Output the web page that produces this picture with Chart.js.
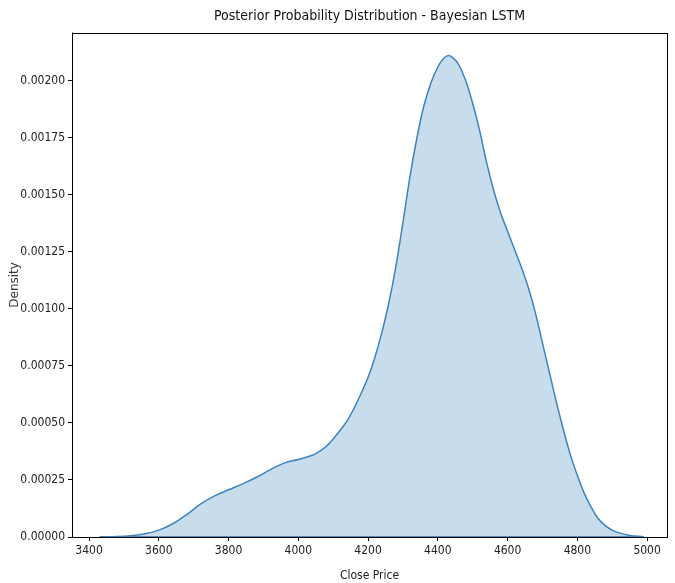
<!DOCTYPE html>
<html>
<head>
<meta charset="utf-8">
<script src="https://cdn.jsdelivr.net/npm/chart.js@4"></script>
<style>
html,body{margin:0;padding:0;background:#fff;}
#wrap{width:675px;height:583px;}
</style>
</head>
<body>
<div id="wrap"><canvas id="c" width="675" height="583"></canvas></div>
<script>
const closePrice = [3430,3480,3520,3560,3600,3640,3680,3720,3760,3800,3840,3880,3920,3960,4000,4040,4060,4080,4100,4120,4140,4160,4180,4200,4220,4240,4260,4280,4300,4320,4340,4360,4380,4400,4415,4430,4445,4460,4480,4500,4520,4540,4560,4580,4600,4620,4640,4660,4680,4700,4720,4740,4760,4780,4800,4820,4840,4860,4880,4900,4920,4950,4990];
const density = [0,0.000002,0.000006,0.000014,0.00003,0.000058,0.000098,0.000145,0.00018,0.000207,0.000233,0.000262,0.000295,0.000325,0.00034,0.000358,0.000375,0.000397,0.00043,0.000468,0.00051,0.000565,0.00063,0.0007,0.00079,0.0009,0.00103,0.00119,0.00138,0.00158,0.00175,0.00189,0.00199,0.00206,0.002095,0.00211,0.002098,0.00207,0.002,0.0019,0.00178,0.00164,0.00152,0.00142,0.00134,0.00126,0.00118,0.00109,0.00098,0.00085,0.00072,0.00059,0.00047,0.00036,0.00027,0.00019,0.00013,0.00008,0.00005,0.00003,0.000018,0.000007,0.000001];
const xTicks = [3400,3600,3800,4000,4200,4400,4600,4800,5000];
const yTicks = [0,0.00025,0.0005,0.00075,0.001,0.00125,0.0015,0.00175,0.002];

const narrow = "'Liberation Sans Narrow','DejaVu Sans Condensed','Arial Narrow',sans-serif";
const pts = closePrice.map((x,i)=>({x:x,y:density[i]}));

const frame = {
  id:'frame',
  afterDraw(chart){
    const a = chart.chartArea, ctx = chart.ctx;
    ctx.save();
    ctx.strokeStyle = '#000';
    ctx.lineWidth = 1;
    ctx.strokeRect(Math.round(a.left)+0.5, Math.round(a.top)+0.5, Math.round(a.right-a.left), Math.round(a.bottom-a.top));
    ctx.restore();
  }
};

new Chart(document.getElementById('c'), {
  type:'line',
  data:{datasets:[
    {data:pts, borderColor:'#3b84c0', backgroundColor:'rgba(31,119,180,0.25)', borderWidth:1.5, fill:'origin', pointRadius:0, tension:0.4},
    {data:[{x:closePrice[0],y:0},{x:closePrice[closePrice.length-1],y:0}], borderColor:'#2f6fa6', borderWidth:1.5, pointRadius:0, fill:false}
  ]},
  options:{
    responsive:false, animation:false,
    layout:{padding:{left:8,right:8,top:0,bottom:0}},
    plugins:{
      legend:{display:false}, tooltip:{enabled:false},
      title:{display:true, fullSize:false, text:'Posterior Probability Distribution - Bayesian LSTM', color:'#111', font:{family:narrow, size:14, weight:'normal'}, padding:{top:8,bottom:8}}
    },
    scales:{
      x:{type:'linear', min:3351, max:5057,
        afterBuildTicks(s){ s.ticks = xTicks.map(v=>({value:v})); },
        afterFit(s){ s.height = 46; },
        ticks:{color:'#222', font:{family:narrow, size:12}, padding:3, maxRotation:0, callback:v=>String(v)},
        grid:{drawOnChartArea:false, drawTicks:true, tickLength:4, color:'#000'},
        border:{color:'#000'},
        title:{display:true, text:'Close Price', color:'#222', font:{family:narrow, size:12}, padding:{top:2,bottom:0}}
      },
      y:{type:'linear', min:0, max:0.00221,
        afterBuildTicks(s){ s.ticks = yTicks.map(v=>({value:v})); },
        afterFit(s){ s.width = 64; },
        ticks:{color:'#222', font:{family:narrow, size:12}, padding:3, callback:v=>Number(v).toFixed(5)},
        grid:{drawOnChartArea:false, drawTicks:true, tickLength:4, color:'#000'},
        border:{color:'#888'},
        title:{display:true, text:'Density', color:'#333', font:{family:"'DejaVu Sans',sans-serif", size:12}, padding:{top:0,bottom:0}}
      }
    }
  },
  plugins:[frame]
});
</script>
</body>
</html>
